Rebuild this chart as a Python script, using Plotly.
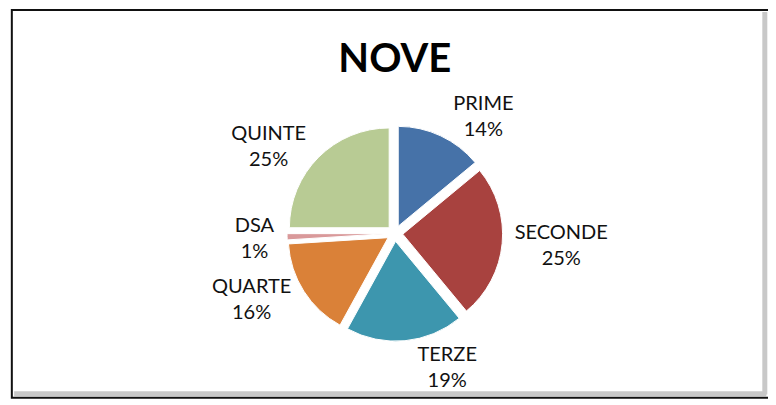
import plotly.graph_objects as go

categories = ["PRIME", "SECONDE", "TERZE", "QUARTE", "DSA", "QUINTE"]
values = [14, 25, 19, 16, 1, 25]
colors = ["#4672A8", "#A8423F", "#3D96AE", "#DA8138", "#D9999A", "#B8CB94"]
title_text = "NOVE"

fig = go.Figure()
fig.add_trace(go.Pie(
    labels=categories,
    values=values,
    sort=False,
    direction="clockwise",
    rotation=0,
    pull=[0.08] * len(values),
    marker=dict(colors=colors, line=dict(color="#FFFFFF", width=1)),
    texttemplate="%{label}<br>%{percent:.0%}",
    textposition="outside",
    outsidetextfont=dict(family="Lato, Open Sans, sans-serif", size=20, color="#111111"),
    showlegend=False,
    hoverinfo="label+percent",
    domain=dict(x=[0.364, 0.646], y=[0.15, 0.70]),
))

fig.update_layout(
    width=766,
    height=392,
    margin=dict(l=0, r=0, t=0, b=0, autoexpand=False),
    paper_bgcolor="#FFFFFF",
    plot_bgcolor="#FFFFFF",
    title=dict(text="<b>" + title_text + "</b>", x=0.505, xanchor="center", y=0.872, yanchor="middle",
               font=dict(family="Lato, Open Sans, sans-serif", size=40, color="#000000")),
    shapes=[
        dict(type="line", xref="paper", yref="paper", x0=0.988, x1=0.988, y0=0.014, y1=0.99,
             line=dict(color="#C8C8C8", width=5), layer="below"),
        dict(type="line", xref="paper", yref="paper", x0=0.008, x1=0.99, y0=0.016, y1=0.016,
             line=dict(color="#C8C8C8", width=5), layer="below"),
        dict(type="rect", xref="paper", yref="paper", x0=0.005, x1=0.995, y0=0.006, y1=0.995,
             line=dict(color="#111111", width=2), fillcolor="rgba(0,0,0,0)", layer="below"),
    ],
)

fig.write_html("out.html")
